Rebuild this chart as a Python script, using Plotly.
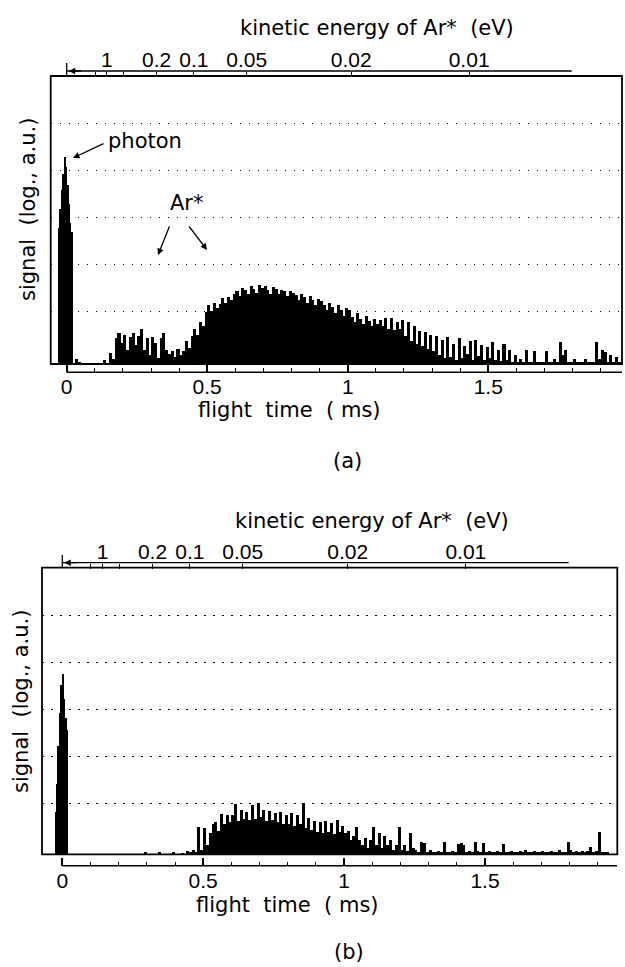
import math
import plotly.graph_objects as go

W, H = 625, 967

# ---------------- data ----------------
BIN_WIDTH = 0.01          # ms, histogram channel width
HIST_T0 = 0.005           # ms, centre of first channel
PHOTON_WIDTH = 0.005      # ms

# signal heights (log units above the noise floor), panel (a)
signal_a = [
    0, 0, 0, 0.1, 0.03, 0, 0, 0, 0, 0,
    0, 0, 0, 0.08, 0, 0.23, 0.1, 0.55, 0.66, 0.45,
    0.62, 0.3, 0.58, 0.66, 0.4, 0.6, 0.75, 0.3, 0.55, 0.2,
    0.58, 0.45, 0.12, 0.55, 0.66, 0.3, 0.22, 0.28, 0.15, 0.32,
    0.2, 0.28, 0.5, 0.35, 0.6, 0.75, 0.62, 0.9, 0.8, 1.1,
    1.25, 1.12, 1.3, 1.2, 1.28, 1.4, 1.3, 1.42, 1.36, 1.48,
    1.56, 1.45, 1.62, 1.58, 1.5, 1.66, 1.6, 1.52, 1.68, 1.62,
    1.66, 1.58, 1.5, 1.64, 1.6, 1.48, 1.58, 1.55, 1.44, 1.56,
    1.52, 1.46, 1.36, 1.48, 1.42, 1.3, 1.44, 1.36, 1.26, 1.38,
    1.34, 1.26, 1.14, 1.3, 1.22, 1.08, 1.26, 1.15, 1.02, 1.2,
    1.14, 1.0, 0.9, 1.08, 0.95, 0.86, 1.02, 0.92, 0.8, 0.96,
    0.85, 0.94, 0.8, 0.98, 0.74, 0.98, 0.72, 0.9, 0.75, 0.94,
    0.6, 0.9, 0.5, 0.8, 0.42, 0.7, 0.38, 0.69, 0.32, 0.62,
    0.28, 0.6, 0.2, 0.52, 0.12, 0.58, 0.15, 0.42, 0.08, 0.55,
    0.12, 0.38, 0.22, 0.5, 0.08, 0.52, 0.18, 0.4, 0.08, 0.36,
    0.12, 0.47, 0.08, 0.3, 0.06, 0.42, 0.08, 0.3, 0.05, 0.2,
    0.05, 0.1, 0.05, 0.3, 0.05, 0.05, 0.28, 0.05, 0.05, 0.05,
    0.28, 0.05, 0.05, 0.1, 0.05, 0.47, 0.2, 0.3, 0.05, 0.05,
    0.1, 0.05, 0.05, 0.05, 0.1, 0.05, 0.05, 0.05, 0.47, 0.1,
    0.3, 0.25, 0.05, 0.2, 0.05, 0.15, 0.05,
]

# panel (b)
signal_b = [
    0, 0, 0, 0, 0, 0, 0, 0, 0, 0,
    0, 0, 0, 0, 0, 0, 0, 0, 0, 0,
    0, 0, 0, 0, 0, 0, 0, 0, 0, 0.05,
    0, 0, 0, 0, 0.06, 0, 0, 0, 0, 0.06,
    0, 0, 0.04, 0, 0.08, 0.05, 0.1, 0.05, 0.59, 0.1,
    0.57, 0.2, 0.45, 0.66, 0.69, 0.5, 0.87, 0.65, 0.85, 0.7,
    0.85, 1.08, 0.72, 0.95, 0.76, 0.9, 0.74, 1.06, 0.75, 1.09,
    0.8, 0.95, 0.72, 0.92, 0.74, 0.88, 0.7, 0.9, 0.66, 0.85,
    0.64, 0.88, 0.6, 0.85, 0.64, 1.09, 0.56, 0.78, 0.52, 0.72,
    0.48, 0.7, 0.45, 0.72, 0.48, 0.68, 0.44, 0.73, 0.48, 0.6,
    0.45, 0.5, 0.3, 0.4, 0.58, 0.3, 0.2, 0.35, 0.15, 0.3,
    0.58, 0.2, 0.45, 0.15, 0.4, 0.2, 0.3, 0.1, 0.2, 0.58,
    0.1, 0.2, 0.08, 0.45, 0.15, 0.1, 0.05, 0.27, 0.25, 0.05,
    0.1, 0.05, 0.05, 0.08, 0.05, 0.27, 0.05, 0.05, 0.08, 0.05,
    0.22, 0.25, 0.2, 0.05, 0.08, 0.05, 0.27, 0.08, 0.05, 0.25,
    0.05, 0.08, 0.05, 0.05, 0.08, 0.05, 0.23, 0.05, 0.05, 0.08,
    0.05, 0.05, 0.08, 0.05, 0.1, 0.05, 0.05, 0.08, 0.05, 0.05,
    0.08, 0.05, 0.05, 0.08, 0.05, 0.05, 0.1, 0.05, 0.05, 0.27,
    0.1, 0.05, 0.08, 0.05, 0.08, 0.05, 0.08, 0.17, 0.05, 0.08,
    0.47, 0.05, 0.05, 0.05, 0, 0,
]

photon_t_a = [-0.0275, -0.0225, -0.0175, -0.0125, -0.0075, -0.0025, 0.0025, 0.0075, 0.0125, 0.0175]
photon_a = [2.9, 3.3, 3.7, 4.05, 4.41, 4.2, 3.8, 3.4, 3.0, 2.8]
photon_t_b = [-0.0225, -0.0175, -0.0125, -0.0075, -0.0025, 0.0025, 0.0075, 0.0125, 0.0175]
photon_b = [0.9, 1.5, 2.3, 3.0, 3.6, 3.84, 3.3, 2.9, 2.65]

time_ticks = [0, 0.5, 1, 1.5]
time_labels = ["0", "0.5", "1", "1.5"]
energy_ticks = [2, 1, 0.5, 0.2, 0.1, 0.05, 0.02, 0.01]            # eV
energy_labels = ["", "1", "", "0.2", "0.1", "0.05", "0.02", "0.01"]
FLIGHT_CONST = 0.1432     # ms * sqrt(eV): t = C / sqrt(E)
ENERGY_AXIS_END = 1.797   # ms

grid_a = [1.11, 2.11, 3.11, 4.11, 5.11]
grid_b = [1.08, 2.08, 3.08, 4.08, 5.08]

# ---------------- helpers ----------------
def px(x):
    return x / W

def py(y):
    return 1 - y / H

TEXT_FONT = dict(family="DejaVu Sans", size=21, color="black")
TICK_FONT = dict(family="Liberation Sans", size=21, color="black")

energy_times = [FLIGHT_CONST / math.sqrt(e) for e in energy_ticks]

panels = [
    dict(name="a", signal=signal_a, pt=photon_t_a, pv=photon_a, grid=grid_a,
         xdom=(50.7, 622), ydom=(76, 364), xr=(-0.0569, 1.976), yr=(0, 6.13),
         bot=372.3, top=71, bar=(63, 76), xa="x", xt="x2", ya="y",
         title_xy=(377, 28), xlabel_xy=(289, 410), ylabel_xy=(28, 210), cap_xy=(347, 461)),
    dict(name="b", signal=signal_b, pt=photon_t_b, pv=photon_b, grid=grid_b,
         xdom=(42, 617.3), ydom=(567.7, 854.3), xr=(-0.072, 1.9695), yr=(0, 6.085),
         bot=865.7, top=562.7, bar=(555, 567.7), xa="x3", xt="x4", ya="y2",
         title_xy=(372, 521), xlabel_xy=(287, 905), ylabel_xy=(21, 702), cap_xy=(349, 952)),
]

fig = go.Figure()
shapes = []
annotations = []
layout = {}

for p in panels:
    n = len(p["signal"])
    t = [HIST_T0 + BIN_WIDTH * i for i in range(n)]
    fig.add_trace(go.Bar(x=t, y=p["signal"], width=BIN_WIDTH * 1.08, xaxis=p["xa"], yaxis=p["ya"],
                         marker=dict(color="black", line=dict(width=0)), showlegend=False,
                         hoverinfo="skip"))
    fig.add_trace(go.Bar(x=p["pt"], y=p["pv"], width=PHOTON_WIDTH * 1.25, xaxis=p["xa"], yaxis=p["ya"],
                         marker=dict(color="black", line=dict(width=0)), showlegend=False,
                         hoverinfo="skip"))
    fig.add_trace(go.Scatter(x=[0.5], y=[1], xaxis=p["xt"], yaxis=p["ya"], mode="markers",
                             marker=dict(opacity=0), showlegend=False, hoverinfo="skip"))

    xkey = "xaxis" if p["xa"] == "x" else "xaxis" + p["xa"][1:]
    tkey = "xaxis" + p["xt"][1:]
    ykey = "yaxis" if p["ya"] == "y" else "yaxis" + p["ya"][1:]

    layout[xkey] = dict(domain=[px(p["xdom"][0]), px(p["xdom"][1])], range=list(p["xr"]),
                        anchor="free", position=py(p["bot"]), tickmode="array",
                        tickvals=time_ticks, ticktext=time_labels, ticks="inside", ticklen=8,
                        tickwidth=1.5, tickcolor="black", showline=False, showgrid=False,
                        zeroline=False, tickfont=TICK_FONT,
                        minor=dict(tickmode="linear", tick0=0, dtick=0.1, ticks="inside",
                                   ticklen=4, tickwidth=1.2, tickcolor="black", showgrid=False))
    layout[tkey] = dict(overlaying=p["xa"], side="top", anchor="free", position=py(p["top"]),
                        range=list(p["xr"]), tickmode="array", tickvals=energy_times,
                        ticktext=energy_labels, ticks="inside", ticklen=5, tickwidth=1.2,
                        tickcolor="black", showline=False, showgrid=False, zeroline=False,
                        tickfont=TICK_FONT)
    layout[ykey] = dict(domain=[py(p["ydom"][1]), py(p["ydom"][0])], range=list(p["yr"]),
                        anchor="free", position=px(p["xdom"][0]), tickmode="array",
                        tickvals=p["grid"], showticklabels=False, ticks="", showgrid=True,
                        gridcolor="black", gridwidth=1.3, griddash="1.5px,7.5px",
                        zeroline=False, showline=False)

    xd = p["xa"] + " domain"
    yd = p["ya"] + " domain"
    shapes.append(dict(type="rect", xref=xd, yref=yd, x0=0, x1=1, y0=0, y1=1,
                       line=dict(color="black", width=1.8)))
    shapes.append(dict(type="line", xref=p["xa"], yref="paper", x0=0, x1=p["xr"][1],
                       y0=py(p["bot"]), y1=py(p["bot"]), line=dict(color="black", width=1.6)))
    shapes.append(dict(type="line", xref=p["xa"], yref="paper", x0=0, x1=ENERGY_AXIS_END,
                       y0=py(p["top"]), y1=py(p["top"]), line=dict(color="black", width=1.3)))
    shapes.append(dict(type="line", xref=p["xa"], yref="paper", x0=0, x1=0,
                       y0=py(p["bar"][0]), y1=py(p["bar"][1]), line=dict(color="black", width=1.3)))

    # arrow pointing to shorter times (higher energy)
    x0px = p["xdom"][0] + (0 - p["xr"][0]) / (p["xr"][1] - p["xr"][0]) * (p["xdom"][1] - p["xdom"][0])
    annotations.append(dict(x=px(x0px + 2), y=py(p["top"]), xref="paper", yref="paper",
                            ax=14, ay=0, text="", showarrow=True, arrowhead=2, arrowsize=1,
                            arrowwidth=1.3, arrowcolor="black"))

    annotations.append(dict(x=px(p["title_xy"][0]), y=py(p["title_xy"][1]), xref="paper", yref="paper",
                            text="kinetic energy of Ar*  (eV)", showarrow=False, font=TEXT_FONT,
                            xanchor="center", yanchor="middle"))
    annotations.append(dict(x=px(p["xlabel_xy"][0]), y=py(p["xlabel_xy"][1]), xref="paper", yref="paper",
                            text="flight  time  ( ms)", showarrow=False, font=TEXT_FONT,
                            xanchor="center", yanchor="middle"))
    annotations.append(dict(x=px(p["ylabel_xy"][0]), y=py(p["ylabel_xy"][1]), xref="paper", yref="paper",
                            text="signal  (log., a.u.)", showarrow=False, font=TEXT_FONT,
                            textangle=-90, xanchor="center", yanchor="middle"))
    annotations.append(dict(x=px(p["cap_xy"][0]), y=py(p["cap_xy"][1]), xref="paper", yref="paper",
                            text="(" + p["name"] + ")", showarrow=False, font=TEXT_FONT,
                            xanchor="center", yanchor="middle"))

# panel (a) labels
annotations.append(dict(x=px(145), y=py(141), xref="paper", yref="paper", text="photon",
                        showarrow=False, font=TEXT_FONT, xanchor="center", yanchor="middle"))
annotations.append(dict(x=px(73), y=py(158), xref="paper", yref="paper", ax=32, ay=-15, text="",
                        showarrow=True, arrowhead=2, arrowsize=1, arrowwidth=1.3, arrowcolor="black"))
annotations.append(dict(x=px(187), y=py(203), xref="paper", yref="paper", text="Ar*",
                        showarrow=False, font=TEXT_FONT, xanchor="center", yanchor="middle"))
annotations.append(dict(x=px(158), y=py(255), xref="paper", yref="paper", ax=12, ay=-30, text="",
                        showarrow=True, arrowhead=2, arrowsize=1, arrowwidth=1.3, arrowcolor="black"))
annotations.append(dict(x=px(207), y=py(250), xref="paper", yref="paper", ax=-19, ay=-25, text="",
                        showarrow=True, arrowhead=2, arrowsize=1, arrowwidth=1.3, arrowcolor="black"))

fig.update_layout(width=W, height=H, margin=dict(l=0, r=0, t=0, b=0, pad=0),
                  paper_bgcolor="white", plot_bgcolor="white", barmode="overlay", bargap=0,
                  font=TEXT_FONT, showlegend=False, shapes=shapes, annotations=annotations,
                  **layout)

fig.write_html("out.html", config={"displayModeBar": False},
               post_script="document.body.style.margin='0';")
